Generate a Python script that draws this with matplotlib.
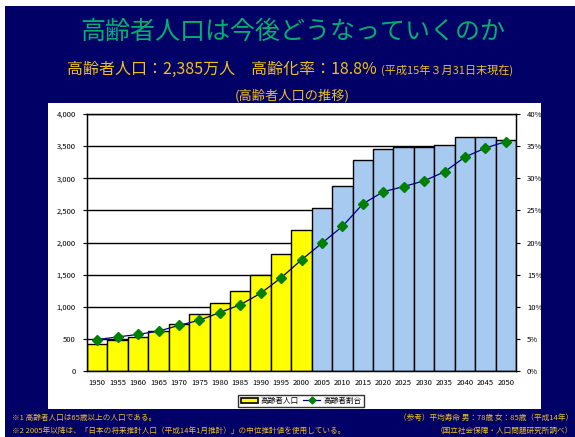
import numpy as np
import matplotlib.pyplot as plt
from matplotlib.patches import Rectangle
from matplotlib.lines import Line2D

plt.rcParams['font.family'] = ['Noto Sans CJK JP', 'DejaVu Sans']

NAVY = "#000066"
GOLD = "#f0c020"
GREEN_TITLE = "#00b070"

years = [1950, 1955, 1960, 1965, 1970, 1975, 1980, 1985, 1990, 1995, 2000,
         2005, 2010, 2015, 2020, 2025, 2030, 2035, 2040, 2045, 2050]
population = [416, 478, 530, 623, 727, 883, 1055, 1242, 1491, 1818, 2192,
              2535, 2878, 3283, 3455, 3484, 3480, 3517, 3636, 3636, 3595]
ratio = [4.9, 5.3, 5.7, 6.2, 7.1, 7.9, 9.1, 10.3, 12.1, 14.5, 17.3,
         19.9, 22.5, 26.0, 27.9, 28.7, 29.6, 31.0, 33.3, 34.7, 35.7]
left_ticks = [0, 500, 1000, 1500, 2000, 2500, 3000, 3500, 4000]
right_ticks = [0, 5, 10, 15, 20, 25, 30, 35, 40]

fig = plt.figure(figsize=(5.75, 4.37), dpi=100)
W, H = 575, 437

# navy background and white chart panel
fig.patches.append(Rectangle((5 / W, 0), 570 / W, 1 - 6 / H, transform=fig.transFigure,
                             facecolor=NAVY, edgecolor="none", zorder=-2))
fig.patches.append(Rectangle((48 / W, 1 - 409 / H), 493 / W, 306 / H, transform=fig.transFigure,
                             facecolor="white", edgecolor="none", zorder=-1))

# titles
fig.text(293 / W, 1 - 32 / H, "高齢者人口は今後どうなっていくのか", color=GREEN_TITLE,
         fontsize=18, ha="center", va="center")
fig.text(67 / W, 1 - 69 / H, "高齢者人口：2,385万人　高齢化率：18.8%", color=GOLD,
         fontsize=11.5, ha="left", va="center")
fig.text(381 / W, 1 - 70 / H, "(平成15年３月31日末現在)", color=GOLD,
         fontsize=8, ha="left", va="center")
fig.text(292 / W, 1 - 96 / H, "(高齢者人口の推移)", color=GOLD,
         fontsize=9.5, ha="center", va="center")

ax = fig.add_axes([87 / W, 1 - 371 / H, (516 - 87) / W, (371 - 114) / H])
x = np.arange(len(years))
colors = ["#ffff00" if y <= 2000 else "#a6caf0" for y in years]
ax.bar(x, population, width=1.0, color=colors, edgecolor="black", linewidth=1.0, zorder=2)
ax.set_ylim(0, 4000)
ax.set_xlim(-0.5, len(years) - 0.5)
ax.set_yticks(left_ticks)
ax.set_yticklabels([f"{v:,}" for v in left_ticks])
ax.set_xticks(x)
ax.set_xticklabels([str(y) for y in years])
for v in left_ticks[1:]:
    ax.axhline(v, color="black", linewidth=1.0, zorder=1)
ax.tick_params(axis="y", labelsize=5.5, length=3, pad=5)
ax.tick_params(axis="x", labelsize=5.5, length=0, pad=6)
for s in ax.spines.values():
    s.set_linewidth(1.0)

ax2 = ax.twinx()
ax2.plot(x, ratio, color="#000080", linewidth=0.9, marker="D", markersize=5,
         markerfacecolor="#008000", markeredgecolor="#008000", zorder=3)
ax2.set_ylim(0, 40)
ax2.set_yticks(right_ticks)
ax2.set_yticklabels([f"{v}%" for v in right_ticks])
ax2.tick_params(axis="y", labelsize=5.5, length=3, pad=5)

handles = [Rectangle((0, 0), 1, 1, facecolor="#ffff00", edgecolor="black", linewidth=1.2),
           Line2D([], [], color="#000080", linewidth=0.9, marker="D", markersize=3.5,
                  markerfacecolor="#008000", markeredgecolor="#008000")]
fig.legend(handles, ["高齢者人口", "高齢者割合"], loc="center", bbox_to_anchor=(301 / W, 1 - 401 / H),
           ncol=2, fontsize=5.5, frameon=True, fancybox=False, edgecolor="black",
           handlelength=2.2, handletextpad=0.4, columnspacing=0.6, borderpad=0.3)

# footnotes
fig.text(12 / W, 1 - 418 / H, "※1 高齢者人口は65歳以上の人口である。", color=GOLD, fontsize=5.5, va="center")
fig.text(12 / W, 1 - 431 / H, "※2 2005年以降は、「日本の将来推計人口（平成14年1月推計）」の中位推計値を使用している。",
         color=GOLD, fontsize=5.5, va="center")
fig.text(573 / W, 1 - 418 / H, "（参考）平均寿命 男：78歳 女：85歳（平成14年）", color=GOLD,
         fontsize=5.5, ha="right", va="center")
fig.text(573 / W, 1 - 431 / H, "（国立社会保障・人口問題研究所調べ）", color=GOLD,
         fontsize=5.5, ha="right", va="center")

fig.savefig("out.png", dpi=100)
